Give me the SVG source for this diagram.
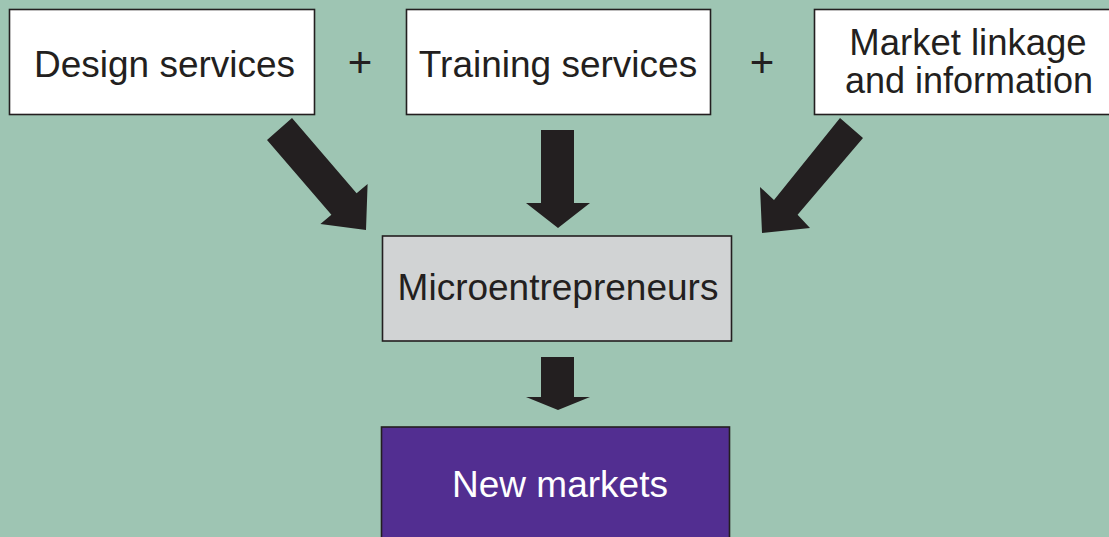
<svg xmlns="http://www.w3.org/2000/svg" width="1109" height="537" viewBox="0 0 1109 537">
<style>
.box{stroke:#231f20;stroke-width:1.6}
.t{font-family:"Liberation Sans",Arial,sans-serif;font-size:37px;fill:#231f20;text-anchor:middle}
.plus{font-size:42px}
.arrow{fill:#231f20}
</style>
<rect x="0" y="0" width="1109" height="537" fill="#9ec5b3"/>
<g id="design">
<rect class="box" x="9.5" y="9.5" width="305" height="105" fill="#ffffff"/>
<text class="t" x="164.5" y="77">Design services</text>
</g>
<text class="t plus" x="360" y="77">+</text>
<g id="training">
<rect class="box" x="406.5" y="9.5" width="304" height="105" fill="#ffffff"/>
<text class="t" x="558" y="77">Training services</text>
</g>
<text class="t plus" x="762" y="77">+</text>
<g id="market">
<rect class="box" x="814.5" y="9.5" width="300" height="105" fill="#ffffff"/>
<text class="t" x="968" y="55" style="font-size:36.5px">Market linkage</text>
<text class="t" x="969" y="93" style="font-size:36px">and information</text>
</g>
<g id="micro">
<rect class="box" x="382.5" y="236" width="349" height="105" fill="#d1d3d4"/>
<text class="t" x="558" y="300">Microentrepreneurs</text>
</g>
<g id="newmarkets">
<rect class="box" x="381.5" y="427" width="348" height="120" fill="#522e91"/>
<text class="t" x="560" y="497" style="fill:#ffffff">New markets</text>
</g>
<g id="connectors">
<polygon class="arrow" points="292,118 267,140 331.4,214.7 320.4,224.1 366,230 367.6,183.9 356.6,193.3"/>
<polygon class="arrow" points="541,130 574,130 574,203 590,203 558,228 526,203 541,203"/>
<polygon class="arrow" points="840,118 863,138 797.6,214.7 810,228 762,233 760,187 774,200"/>
<polygon class="arrow" points="541,357 574,357 574,397 590,397 558,410 526,397 541,397"/>
</g>
</svg>
